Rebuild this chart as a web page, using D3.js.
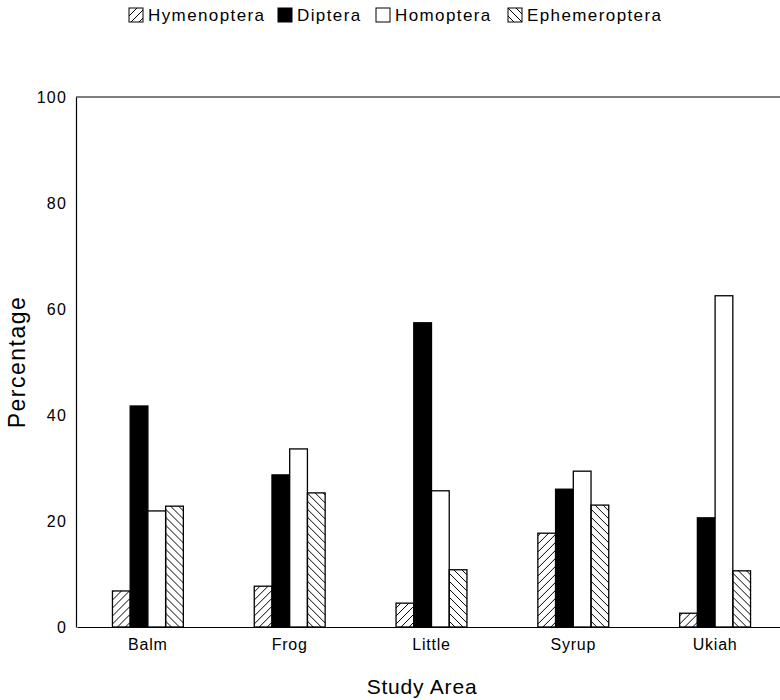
<!DOCTYPE html>
<html>
<head>
<meta charset="utf-8">
<script src="https://cdn.jsdelivr.net/npm/d3@7"></script>
<style>
  body { margin: 0; background: #fff; }
  svg text { font-family: "Liberation Sans", Arial, Helvetica, sans-serif; fill: #000; }
</style>
</head>
<body>
<div id="chart"></div>
<script>
var areas = ["Balm", "Frog", "Little", "Syrup", "Ukiah"];
var orders = ["Hymenoptera", "Diptera", "Homoptera", "Ephemeroptera"];
var hymenoptera = [6.8, 7.7, 4.5, 17.7, 2.6];
var diptera = [41.7, 28.7, 57.4, 26.0, 20.6];
var homoptera = [21.9, 33.6, 25.7, 29.4, 62.5];
var ephemeroptera = [22.8, 25.3, 10.8, 23.0, 10.6];
var yTicks = [0, 20, 40, 60, 80, 100];

var series = [hymenoptera, diptera, homoptera, ephemeroptera];
var fills = ["url(#hatch-up)", "#000", "#fff", "url(#hatch-down)"];
var legendX = [129, 278, 376, 508];

var W = 780, H = 700;
var plotLeft = 76, plotTop = 97, plotBottom = 627;

var svg = d3.select("#chart").append("svg")
    .attr("width", W)
    .attr("height", H);

// hatch patterns
var defs = svg.append("defs");
defs.append("pattern")
    .attr("id", "hatch-up")
    .attr("patternUnits", "userSpaceOnUse")
    .attr("width", 8).attr("height", 8)
  .append("path")
    .attr("d", "M-2,2 L2,-2 M0,8 L8,0 M6,10 L10,6")
    .attr("stroke", "#000").attr("stroke-width", 1);
defs.append("pattern")
    .attr("id", "hatch-down")
    .attr("patternUnits", "userSpaceOnUse")
    .attr("width", 8).attr("height", 8)
  .append("path")
    .attr("d", "M-2,6 L2,10 M0,0 L8,8 M6,-2 L10,2")
    .attr("stroke", "#000").attr("stroke-width", 1);

var x = d3.scaleBand()
    .domain(areas)
    .range([77, 786])
    .paddingInner(0.5)
    .paddingOuter(0.25);

var xs = d3.scaleBand()
    .domain(orders)
    .range([0, x.bandwidth()]);

var y = d3.scaleLinear()
    .domain([0, 100])
    .range([plotBottom, plotTop]);

// top frame line
svg.append("line")
    .attr("x1", plotLeft).attr("x2", W).attr("y1", plotTop).attr("y2", plotTop)
    .attr("stroke", "#000").attr("stroke-width", 1.2);

// bars
var groups = svg.selectAll("g.area")
    .data(areas)
  .enter().append("g")
    .attr("class", "area")
    .attr("transform", function(d) { return "translate(" + x(d) + ",0)"; });

groups.selectAll("rect")
    .data(function(d, i) {
      return orders.map(function(o, j) { return {order: o, value: series[j][i], j: j}; });
    })
  .enter().append("rect")
    .attr("x", function(d) { return xs(d.order); })
    .attr("y", function(d) { return y(d.value); })
    .attr("width", xs.bandwidth())
    .attr("height", function(d) { return y(0) - y(d.value); })
    .style("fill", function(d) { return fills[d.j]; })
    .style("stroke", "#000")
    .style("stroke-width", 1.3);

// y axis
var yAxis = svg.append("g")
    .attr("transform", "translate(" + plotLeft + ",0)")
    .call(d3.axisLeft(y).tickValues(yTicks).tickSize(0).tickPadding(9));
yAxis.select(".domain").attr("stroke", "#000").attr("stroke-width", 1.2);
yAxis.selectAll("text")
    .style("font-size", "16px")
    .style("letter-spacing", "1.2px");

// x axis
var xAxis = svg.append("g")
    .attr("transform", "translate(0," + plotBottom + ")")
    .call(d3.axisBottom(x).tickSize(0).tickPadding(12));
xAxis.select(".domain").attr("stroke", "#000").attr("stroke-width", 1.2);
xAxis.selectAll("text")
    .style("font-size", "16px")
    .style("letter-spacing", "0.8px");

// axis titles
svg.append("text")
    .attr("x", 422)
    .attr("y", 694)
    .attr("text-anchor", "middle")
    .style("font-size", "21px")
    .style("letter-spacing", "0.8px")
    .text("Study Area");

svg.append("text")
    .attr("transform", "translate(25,362) rotate(-90)")
    .attr("text-anchor", "middle")
    .style("font-size", "23px")
    .style("letter-spacing", "1.5px")
    .text("Percentage");

// legend
var legend = svg.append("g")
    .attr("class", "legend")
    .selectAll("g")
    .data(orders)
  .enter().append("g")
    .attr("transform", function(d, i) { return "translate(" + legendX[i] + ",8)"; });

legend.append("rect")
    .attr("width", 14)
    .attr("height", 14)
    .style("fill", function(d, i) { return fills[i]; })
    .style("stroke", "#000")
    .style("stroke-width", 1);

legend.append("text")
    .attr("x", 19)
    .attr("y", 13)
    .style("font-size", "17px")
    .style("letter-spacing", "1.4px")
    .text(function(d) { return d; });
</script>
</body>
</html>
